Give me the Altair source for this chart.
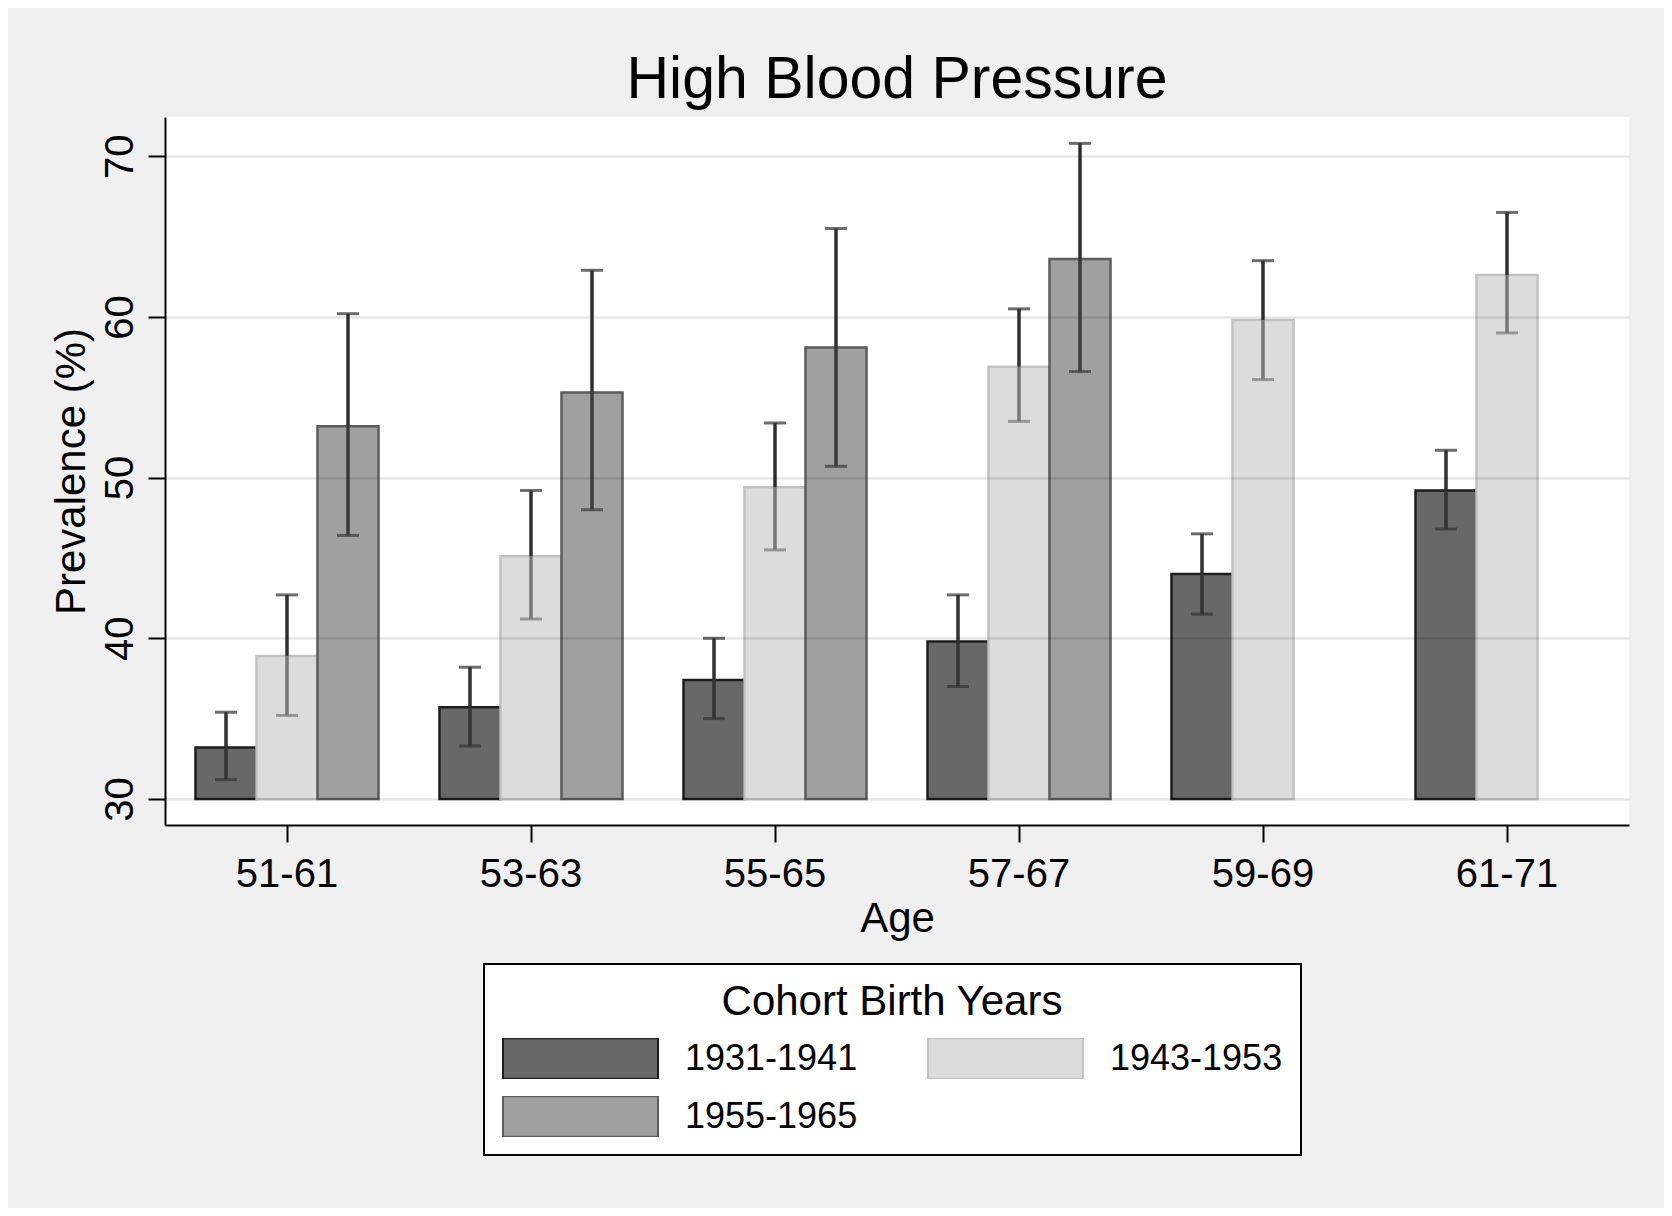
import altair as alt
import pandas as pd

ages = ["51-61", "53-63", "55-65", "57-67", "59-69", "61-71"]
cohorts = ["1931-1941", "1943-1953", "1955-1965"]

prev_1931 = [33.2, 35.7, 37.4, 39.8, 44.0, 49.2]
lo_1931 = [31.2, 33.3, 35.0, 37.0, 41.5, 46.8]
hi_1931 = [35.4, 38.2, 40.0, 42.7, 46.5, 51.7]

prev_1943 = [38.9, 45.1, 49.4, 56.9, 59.8, 62.6]
lo_1943 = [35.2, 41.2, 45.5, 53.5, 56.1, 59.0]
hi_1943 = [42.7, 49.2, 53.4, 60.5, 63.5, 66.5]

prev_1955 = [53.2, 55.3, 58.1, 63.6]
lo_1955 = [46.4, 48.0, 50.7, 56.6]
hi_1955 = [60.2, 62.9, 65.5, 70.8]

fills = ["#686868", "#dcdcdc", "#a0a0a0"]
strokes = ["#1e1e1e", "#c2c2c2", "#5c5c5c"]
# colour of the part of each error bar seen through the (semi-transparent) bar
inner_err = ["#333333", "#777777", "#3a3a3a"]
ERR = "#303030"

rows = []
for c, pv, lo, hi in [
    (cohorts[0], prev_1931, lo_1931, hi_1931),
    (cohorts[1], prev_1943, lo_1943, hi_1943),
    (cohorts[2], prev_1955, lo_1955, hi_1955),
]:
    for i in range(len(pv)):
        rows.append({"age": ages[i], "cohort": c, "prev": pv[i], "lo": lo[i], "hi": hi[i]})
df = pd.DataFrame(rows)

FONT = "Liberation Sans"

xscale = alt.Scale(domain=ages, paddingInner=0.25, paddingOuter=0.125)
xaxis = alt.Axis(
    title="Age", labelAngle=0, labelPadding=12, grid=False,
    titleX=732, titleY=106, titleBaseline="alphabetic", titleAlign="center",
)
x = alt.X("age:N", sort=ages, scale=xscale, axis=xaxis)
xo = alt.XOffset("cohort:N", sort=cohorts,
                 scale=alt.Scale(domain=cohorts, paddingInner=0, paddingOuter=0))

yscale = alt.Scale(domain=[28.38, 72.44], nice=False, zero=False)
yaxis = alt.Axis(
    title="Prevalence (%)", values=[30, 40, 50, 60, 70], grid=True,
    gridColor="black", gridOpacity=0.095, gridWidth=2.5, zindex=1,
    labelAngle=-90, labelAlign="center", labelBaseline="bottom", labelPadding=8,
    titleAngle=-90, titleBaseline="alphabetic", titleAlign="center",
    titleX=-81, titleY=354,
)

inner_scale = alt.Scale(domain=cohorts, range=inner_err)

base = alt.Chart(df)

legend = alt.Legend(
    title="Cohort Birth Years", orient="none", legendX=319, legendY=847,
    direction="horizontal", columns=2,
    symbolType="M-1,-0.26H1V0.26H-1Z", symbolSize=24025, symbolStrokeWidth=2,
    clipHeight=41, rowPadding=17, columnPadding=69, labelOffset=26,
    labelFont=FONT, labelFontSize=36, labelColor="black", labelLimit=0,
    titleFont=FONT, titleFontSize=42, titleFontWeight="normal", titleColor="black",
    titleAnchor="middle", titleAlign="center", titlePadding=14, titleLimit=0,
    padding=18, strokeColor="black", fillColor="white",
)

bars = base.mark_bar(strokeWidth=2.5).encode(
    x=x, xOffset=xo,
    y=alt.Y("prev:Q", scale=yscale, axis=yaxis),
    y2=alt.datum(30),
    fill=alt.Fill("cohort:N", title="Cohort Birth Years",
                  scale=alt.Scale(domain=cohorts, range=fills), legend=legend),
    stroke=alt.Stroke("cohort:N", title="Cohort Birth Years",
                      scale=alt.Scale(domain=cohorts, range=strokes), legend=legend),
)

# lower half of error bar (inside the bar)
err_in = base.mark_rule(strokeWidth=3.5).encode(
    x=x, xOffset=xo,
    y=alt.Y("lo:Q", scale=yscale, axis=yaxis),
    y2="prev:Q",
    color=alt.Color("cohort:N", scale=inner_scale, legend=None),
)
cap_lo = base.mark_tick(orient="horizontal", size=22, thickness=3).encode(
    x=x, xOffset=xo, y=alt.Y("lo:Q", scale=yscale, axis=yaxis),
    color=alt.Color("cohort:N", scale=inner_scale, legend=None),
)
# upper half (above the bar)
err_out = base.mark_rule(strokeWidth=3.5, color=ERR).encode(
    x=x, xOffset=xo,
    y=alt.Y("prev:Q", scale=yscale, axis=yaxis),
    y2="hi:Q",
)
cap_hi = base.mark_tick(orient="horizontal", size=22, thickness=3, color=ERR).encode(
    x=x, xOffset=xo, y=alt.Y("hi:Q", scale=yscale, axis=yaxis)
)

chart = alt.layer(bars, err_in, cap_lo, err_out, cap_hi).properties(
    width=1464, height=708,
    padding={"left": 157, "top": 109, "right": 35, "bottom": 383},
    autosize=alt.AutoSizeParams(type="none"),
    background="#f0f0f0",
    title=alt.TitleParams(
        "High Blood Pressure", font=FONT, fontSize=59, fontWeight="normal",
        color="black", anchor="middle", baseline="alphabetic", offset=20, dy=60,
    ),
).configure_view(
    fill="white", strokeWidth=0
).configure_axis(
    domainColor="black", domainWidth=2, tickColor="black", tickWidth=2, tickSize=17,
    labelFont=FONT, labelFontSize=40, labelColor="black",
    titleFont=FONT, titleFontSize=42, titleFontWeight="normal", titleColor="black",
).configure_legend(
    strokeWidth=2
)

chart.save("out.html", embed_options={"renderer": "svg", "actions": False})
